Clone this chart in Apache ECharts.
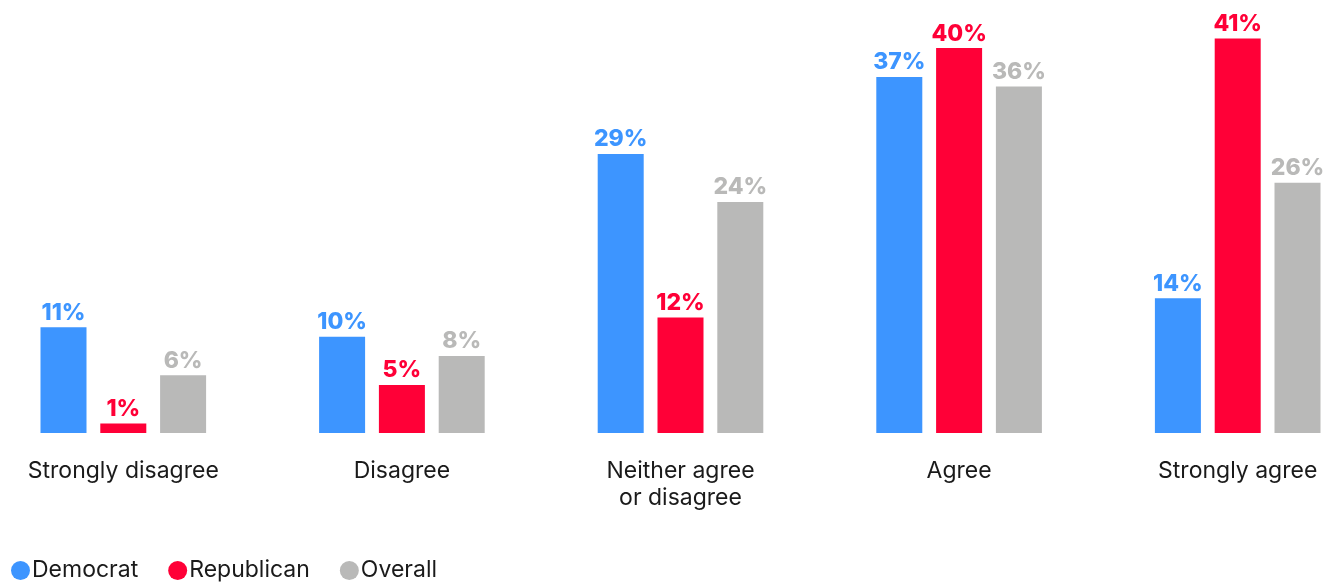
<!DOCTYPE html>
<html>
<head>
<meta charset="utf-8">
<script src="https://cdn.jsdelivr.net/npm/echarts@6/dist/echarts.min.js"></script>
<style>
    html, body { margin: 0; padding: 0; background: #fff; }
    #myBarChart { width: 1336px; height: 582px; }
</style>
</head>
<body>
<div id="myBarChart"></div>
<script>
// 数据
var categories = ['Strongly disagree', 'Disagree', 'Neither agree\nor disagree', 'Agree', 'Strongly agree'];
var democrat = [11, 10, 29, 37, 14];
var republican = [1, 5, 12, 40, 41];
var overall = [6, 8, 24, 36, 26];

var seriesNames = ['Democrat', 'Republican', 'Overall'];
var seriesColors = ['#3d95ff', '#ff0037', '#b9b9b8'];

function makeSeries(name, data, color) {
    return {
        name: name,
        type: 'bar',
        barWidth: 46,
        barGap: '30%',
        itemStyle: {
            color: color
        },
        label: {
            show: true,
            position: 'top',
            distance: 3,
            color: color,
            fontFamily: 'Inter',
            fontWeight: 800,
            fontSize: 23,
            formatter: '{c}%'
        },
        data: data
    };
}

var chart = echarts.init(document.getElementById('myBarChart'));
var option = {
    backgroundColor: '#FFF',
    animation: false,
    textStyle: {
        fontFamily: 'Inter'
    },
    grid: {
        left: -16,
        width: 1393,
        top: 0,
        height: 433,
        outerBoundsMode: 'none',
        containLabel: false
    },
    legend: {
        left: 6,
        bottom: -5,
        icon: 'circle',
        itemWidth: 19,
        itemHeight: 19,
        itemGap: 30,
        textStyle: {
            fontSize: 23,
            color: '#1a1a1a',
            padding: [0, 0, 0, -3]
        },
        data: seriesNames
    },
    xAxis: {
        type: 'category',
        data: categories,
        axisLine: { show: false },
        axisTick: { show: false },
        axisLabel: {
            margin: 25,
            fontSize: 23,
            lineHeight: 27,
            color: '#1a1a1a'
        }
    },
    yAxis: {
        type: 'value',
        min: 0,
        max: 45,
        show: false,
        splitLine: { show: false }
    },
    series: [
        makeSeries(seriesNames[0], democrat, seriesColors[0]),
        makeSeries(seriesNames[1], republican, seriesColors[1]),
        makeSeries(seriesNames[2], overall, seriesColors[2])
    ]
};
chart.setOption(option);
</script>
</body>
</html>
